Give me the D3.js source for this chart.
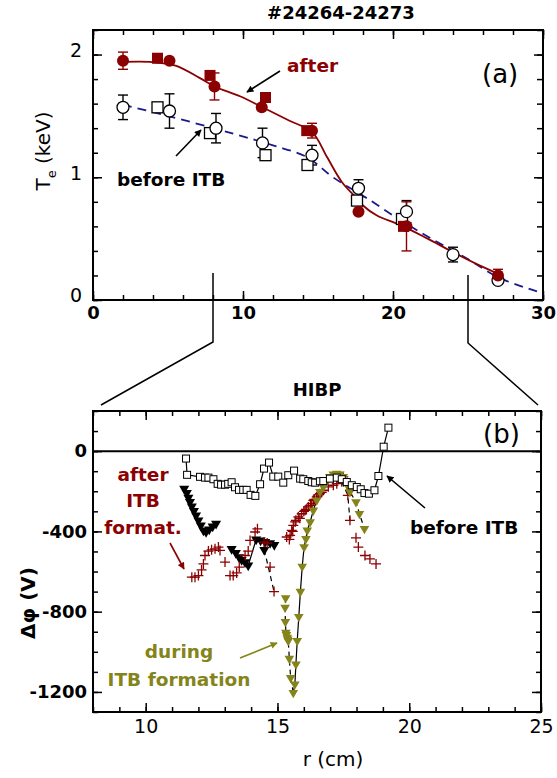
<!DOCTYPE html>
<html>
<head>
<meta charset="utf-8">
<script src="https://cdn.jsdelivr.net/npm/d3@7.9.0/dist/d3.min.js"></script>
<style>
  html, body { margin: 0; padding: 0; background: #fff; }
  svg { display: block; font-family: "DejaVu Sans", sans-serif; }
</style>
</head>
<body>
<svg id="chart" width="557" height="778"></svg>
<script>
// ---- panel (a): Te profiles, shots #24264-24273 ----
const afterCircR   = [2.0, 5.1, 8.1, 11.25, 14.6, 17.7, 20.9, 27.0];
const afterCircTe  = [1.95, 1.95, 1.74, 1.57, 1.38, 0.72, 0.60, 0.20];
const afterCircErr = [0.07, 0, 0.11, 0, 0.06, 0, 0.20, 0.05];
const afterSqR  = [4.3, 7.8, 11.5, 14.25, 20.7];
const afterSqTe = [1.97, 1.83, 1.65, 1.38, 0.60];

const beforeCircR   = [2.0, 5.1, 8.2, 11.3, 14.6, 17.7, 20.9, 24.0, 27.0];
const beforeCircTe  = [1.57, 1.54, 1.40, 1.28, 1.18, 0.91, 0.72, 0.37, 0.16];
const beforeCircErr = [0.10, 0.14, 0.12, 0.12, 0.08, 0.07, 0.09, 0.06, 0.03];
const beforeSqR  = [4.3, 7.8, 11.5, 14.3, 17.6, 20.6];
const beforeSqTe = [1.57, 1.36, 1.18, 1.10, 0.81, 0.66];

// fitted profiles
const afterFitR  = [2.0, 3.8, 5.5, 7.1, 8.1, 9.8, 11.3, 13.1, 14.6, 15.6, 16.6, 17.5, 18.0, 18.9, 20.5, 22.3, 24.0, 25.8, 26.9];
const afterFitTe = [1.94, 1.94, 1.91, 1.81, 1.74, 1.66, 1.57, 1.46, 1.37, 1.165, 0.96, 0.84, 0.77, 0.69, 0.61, 0.50, 0.39, 0.28, 0.22];
const beforeFitR  = [2.0, 5.0, 9.35, 12.0, 14.25, 16.0, 18.25, 20.5, 22.7, 24.9, 27.1, 29.6];
const beforeFitTe = [1.59, 1.50, 1.355, 1.26, 1.165, 1.0, 0.83, 0.65, 0.49, 0.34, 0.18, 0.07];

// ---- panel (b): HIBP potential profiles ----
const beforeR = [11.53, 11.57, 12.06, 12.25, 12.38, 12.57, 12.73, 12.86, 13.01, 13.13, 13.26, 13.39, 13.54, 13.70, 13.83, 13.98, 14.16, 14.34, 14.49, 14.68, 14.84, 15.03, 15.22, 15.41, 15.63, 15.86, 15.98, 16.17, 16.30, 16.43, 16.61, 16.74, 16.99, 17.25, 17.44, 17.63, 17.82, 18.01, 18.16, 18.30, 18.47, 18.68, 18.83, 19.03, 19.21];
const beforeV = [-37, -118, -128, -132, -132, -140, -163, -167, -167, -163, -155, -180, -193, -193, -193, -218, -223, -165, -87, -57, -127, -127, -157, -120, -97, -137, -140, -149, -155, -157, -150, -149, -137, -132, -140, -154, -170, -179, -190, -209, -212, -195, -124, 22, 117];

const triA_R = [11.46, 11.56, 11.62, 11.68, 11.75, 11.83, 11.91, 12.0, 12.09, 12.19, 12.29, 12.41, 12.54, 12.67];
const triA_V = [-187, -208, -232, -253, -275, -298, -320, -345, -370, -395, -403, -390, -375, -362];
const triB_R = [13.26, 13.42, 13.54, 13.64, 13.77, 13.89, 14.19, 14.36, 14.53, 14.72, 14.88];
const triB_V = [-487, -507, -528, -542, -553, -570, -440, -445, -452, -458, -467];
const triC_R = [14.50];
const triC_V = [-492];

const crossR = [11.75, 11.87, 12.0, 12.12, 12.19, 12.25, 12.38, 12.50, 12.63, 12.76, 12.82, 13.01, 13.20, 13.32, 13.45, 13.55, 13.77, 13.89, 13.96, 14.15, 14.24, 14.49, 14.61, 14.72, 14.87,
  15.35, 15.45, 15.48, 15.54, 15.58, 15.60, 15.67, 15.70, 15.79, 15.85, 15.92, 16.0, 16.05, 16.10, 16.17, 16.25, 16.30, 16.36, 16.40, 16.49, 16.55, 16.61, 16.68, 16.74, 16.93, 17.12, 17.25, 17.44, 17.50,
  17.67, 17.75, 17.98, 18.07, 18.32, 18.51, 18.74];
const crossV = [-628, -628, -620, -592, -562, -520, -498, -492, -487, -478, -495, -553, -620, -620, -607, -578, -520, -498, -445, -403, -387, -453, -458, -578, -700,
  -428, -440, -420, -395, -400, -370, -353, -345, -328, -335, -312, -300, -295, -290, -278, -270, -262, -245, -240, -228, -218, -212, -205, -195, -178, -170, -162, -153, -128,
  -220, -345, -432, -478, -520, -537, -562];

const oliveDownR = [15.31, 15.29, 15.30, 15.32, 15.34, 15.37, 15.39, 15.41, 15.45, 15.50, 15.60];
const oliveDownV = [-732, -779, -850, -904, -915, -929, -937, -945, -1034, -1129, -1204];
const oliveUpR = [15.60, 15.66, 15.70, 15.75, 15.81, 15.87, 15.94, 16.01, 16.08, 16.13, 16.24, 16.36, 16.49, 16.61, 16.74, 16.87, 16.99, 17.12, 17.25, 17.37, 17.50];
const oliveUpV = [-1204, -1162, -1062, -945, -825, -700, -575, -478, -437, -395, -353, -295, -245, -203, -178, -153, -128, -115, -112, -115, -128];
const oliveOutR = [17.50, 17.65, 17.75, 17.98, 18.11, 18.30];
const oliveOutV = [-128, -170, -203, -253, -312, -387];

// dashed connectors seen between points
const linkA = [[14.50, -492], [14.87, -700]];
const linkB = [[17.44, -153], [17.67, -220], [17.75, -345]];

const RED = '#8b0000', NAVY = '#1a1a8e', OLIVE = '#84841a';
const svg = d3.select('#chart');

const defs = svg.append('defs');
function arrowHead(id, color) {
  defs.append('marker').attr('id', id)
    .attr('viewBox', '0 0 10 10').attr('refX', 9).attr('refY', 5)
    .attr('markerWidth', 9).attr('markerHeight', 7).attr('markerUnits', 'userSpaceOnUse')
    .attr('orient', 'auto')
    .append('path').attr('d', 'M0,0L10,5L0,10z').attr('fill', color);
}
arrowHead('arrK', '#000');
arrowHead('arrR', RED);
arrowHead('arrO', OLIVE);

function arrow(x1, y1, x2, y2, color, id) {
  svg.append('line').attr('x1', x1).attr('y1', y1).attr('x2', x2).attr('y2', y2)
    .attr('stroke', color).attr('stroke-width', 1.6).attr('marker-end', `url(#${id})`);
}

function text(x, y, str, size, opts = {}) {
  return svg.append('text').attr('x', x).attr('y', y).text(str)
    .attr('font-size', size)
    .attr('font-weight', opts.bold ? 'bold' : null)
    .attr('fill', opts.color || '#000')
    .attr('text-anchor', opts.anchor || 'start');
}

// axis helper: ticks point inward, no domain path
function addAxis(axisFn, scale, values, size, transform, opts = {}) {
  const ax = axisFn(scale).tickValues(values).tickSize(size).tickPadding(opts.pad || 6)
    .tickFormat(opts.labels ? (d => String(d)) : '');
  const g = svg.append('g').attr('transform', transform).call(ax);
  g.select('.domain').remove();
  g.selectAll('line').attr('stroke-width', 1.5);
  g.attr('font-family', null).attr('font-size', opts.size || 18)
    .attr('font-weight', opts.bold ? 'bold' : null);
  return g;
}

// ================= panel (a) =================
const xa = d3.scaleLinear().domain([0, 30]).range([93, 543]);
const ya = d3.scaleLinear().domain([0, 2.2]).range([300, 30]);

const minA = d3.range(0, 2.21, 0.2);
addAxis(d3.axisLeft, ya, minA, -5, 'translate(93,0)');
addAxis(d3.axisLeft, ya, [0, 1, 2], -9, 'translate(93,0)', {labels: true, pad: 11, size: 19})
  .selectAll('text').attr('dy', '0.1em');
addAxis(d3.axisRight, ya, minA, -6, 'translate(543,0)');
addAxis(d3.axisRight, ya, [0, 1, 2], -9, 'translate(543,0)');
const minX = d3.range(0, 31, 2);
addAxis(d3.axisBottom, xa, minX, -5, 'translate(0,300)');
addAxis(d3.axisBottom, xa, [0, 10, 20, 30], -9, 'translate(0,300)', {labels: true, pad: 6, bold: true, size: 18});
addAxis(d3.axisTop, xa, minX, -5, 'translate(0,30)');
addAxis(d3.axisTop, xa, [0, 10, 20, 30], -9, 'translate(0,30)');

svg.append('rect').attr('x', 93).attr('y', 30).attr('width', 450).attr('height', 270)
  .attr('fill', 'none').attr('stroke', '#000').attr('stroke-width', 2);

const fitLine = d3.line().curve(d3.curveCatmullRom.alpha(0.5));
svg.append('path')
  .attr('d', fitLine.x(d => xa(d[0])).y(d => ya(d[1]))(d3.zip(beforeFitR, beforeFitTe)))
  .attr('fill', 'none').attr('stroke', NAVY).attr('stroke-width', 1.8).attr('stroke-dasharray', '9,6');
svg.append('path')
  .attr('d', fitLine.x(d => xa(d[0])).y(d => ya(d[1]))(d3.zip(afterFitR, afterFitTe)))
  .attr('fill', 'none').attr('stroke', RED).attr('stroke-width', 1.8);

function errBars(rs, ts, es, color) {
  const g = svg.append('g').attr('stroke', color).attr('stroke-width', 1.4);
  rs.forEach((r, i) => {
    if (!es[i]) return;
    const x = xa(r), y1 = ya(ts[i] - es[i]), y2 = ya(ts[i] + es[i]);
    g.append('line').attr('x1', x).attr('x2', x).attr('y1', y1).attr('y2', y2);
    g.append('line').attr('x1', x - 5).attr('x2', x + 5).attr('y1', y1).attr('y2', y1);
    g.append('line').attr('x1', x - 5).attr('x2', x + 5).attr('y1', y2).attr('y2', y2);
  });
}
errBars(beforeCircR, beforeCircTe, beforeCircErr, '#000');
errBars(afterCircR, afterCircTe, afterCircErr, RED);

svg.append('g').selectAll('rect').data(d3.zip(beforeSqR, beforeSqTe)).join('rect')
  .attr('x', d => xa(d[0]) - 5.5).attr('y', d => ya(d[1]) - 5.5).attr('width', 11).attr('height', 11)
  .attr('fill', '#fff').attr('stroke', '#000').attr('stroke-width', 1.3);
svg.append('g').selectAll('circle').data(d3.zip(beforeCircR, beforeCircTe)).join('circle')
  .attr('cx', d => xa(d[0])).attr('cy', d => ya(d[1])).attr('r', 6)
  .attr('fill', '#fff').attr('stroke', '#000').attr('stroke-width', 1.3);
svg.append('g').selectAll('rect').data(d3.zip(afterSqR, afterSqTe)).join('rect')
  .attr('x', d => xa(d[0]) - 5.5).attr('y', d => ya(d[1]) - 5.5).attr('width', 11).attr('height', 11)
  .attr('fill', RED);
svg.append('g').selectAll('circle').data(d3.zip(afterCircR, afterCircTe)).join('circle')
  .attr('cx', d => xa(d[0])).attr('cy', d => ya(d[1])).attr('r', 6).attr('fill', RED);

text(341, 19, '#24264-24273', 18, {bold: true, anchor: 'middle'});
text(482, 83, '(a)', 26);
text(287, 72, 'after', 18.5, {bold: true, color: RED});
arrow(280, 71, 247, 92, '#000', 'arrK');
text(117, 186, 'before ITB', 18.5, {bold: true});
arrow(176, 156, 201, 130, '#000', 'arrK');

const yLab = svg.append('text').attr('transform', 'translate(50,151) rotate(-90)')
  .attr('text-anchor', 'middle').attr('font-size', 20);
yLab.append('tspan').text('T');
yLab.append('tspan').text('e').attr('font-size', 13).attr('dy', 6);
yLab.append('tspan').text(' (keV)').attr('dy', -6);

// ================= panel (b) =================
const xb = d3.scaleLinear().domain([8, 25]).range([93, 541]);
const yb = d3.scaleLinear().domain([-1300, 200]).range([712, 411]);

// zoom connectors from panel (a)
svg.append('path').attr('d', `M${xa(8)},273V342L101,405`).attr('fill', 'none').attr('stroke', '#000').attr('stroke-width', 1.5);
svg.append('path').attr('d', `M${xa(25)},275V343L538,405`).attr('fill', 'none').attr('stroke', '#000').attr('stroke-width', 1.5);

const minV = d3.range(-1300, 201, 100);
addAxis(d3.axisLeft, yb, minV, -5, 'translate(93,0)');
addAxis(d3.axisLeft, yb, [0, -400, -800, -1200], -9, 'translate(93,0)', {labels: true, pad: 6, bold: true, size: 18});
addAxis(d3.axisRight, yb, minV, -5, 'translate(541,0)');
addAxis(d3.axisRight, yb, [0, -400, -800, -1200], -9, 'translate(541,0)');
const minR = d3.range(8, 25.1, 1);
addAxis(d3.axisBottom, xb, minR, -5, 'translate(0,712)');
addAxis(d3.axisBottom, xb, [10, 15, 20, 25], -9, 'translate(0,712)', {labels: true, pad: 8, size: 19});
addAxis(d3.axisTop, xb, minR, -5, 'translate(0,411)');
addAxis(d3.axisTop, xb, [10, 15, 20, 25], -9, 'translate(0,411)');

svg.append('rect').attr('x', 93).attr('y', 411).attr('width', 448).attr('height', 301)
  .attr('fill', 'none').attr('stroke', '#000').attr('stroke-width', 2);
svg.append('line').attr('x1', 93).attr('x2', 541).attr('y1', yb(0)).attr('y2', yb(0))
  .attr('stroke', '#000').attr('stroke-width', 2);

const lineB = d3.line().x(d => xb(d[0])).y(d => yb(d[1]));
function polyline(pts, dash) {
  svg.append('path').attr('d', lineB(pts)).attr('fill', 'none')
    .attr('stroke', '#000').attr('stroke-width', 1.2).attr('stroke-dasharray', dash || null);
}
polyline(d3.zip(beforeR, beforeV));
polyline(d3.zip(triB_R, triB_V));
polyline(linkA, '5,4');
polyline(linkB, '5,4');
polyline(d3.zip(oliveDownR, oliveDownV), '5,4');
polyline(d3.zip(oliveUpR, oliveUpV));
polyline(d3.zip(oliveOutR, oliveOutV), '5,4');

const tri = d3.symbol().type(d3.symbolTriangle);
function triangles(rs, vs, color, size) {
  svg.append('g').selectAll('path').data(d3.zip(rs, vs)).join('path')
    .attr('d', tri.size(size)())
    .attr('transform', d => `translate(${xb(d[0])},${yb(d[1])}) rotate(180)`)
    .attr('fill', color);
}
triangles(triA_R, triA_V, '#000', 44);
triangles(triB_R, triB_V, '#000', 44);
triangles(triC_R, triC_V, '#000', 44);

svg.append('g').selectAll('path').data(d3.zip(crossR, crossV)).join('path')
  .attr('d', d => `M${xb(d[0]) - 5},${yb(d[1])}h10M${xb(d[0])},${yb(d[1]) - 5}v10`)
  .attr('stroke', RED).attr('stroke-width', 1.3).attr('fill', 'none');

triangles(oliveDownR, oliveDownV, OLIVE, 40);
triangles(oliveUpR.slice(1), oliveUpV.slice(1), OLIVE, 40);
triangles(oliveOutR.slice(1), oliveOutV.slice(1), OLIVE, 40);

svg.append('g').selectAll('rect').data(d3.zip(beforeR, beforeV)).join('rect')
  .attr('x', d => xb(d[0]) - 3.5).attr('y', d => yb(d[1]) - 3.5).attr('width', 7).attr('height', 7)
  .attr('fill', '#fff').attr('stroke', '#000').attr('stroke-width', 1);

text(317, 396, 'HIBP', 18, {bold: true, anchor: 'middle'});
text(483, 443, '(b)', 26);
text(143, 481, 'after', 18.5, {bold: true, color: RED, anchor: 'middle'});
text(143, 507, 'ITB', 18.5, {bold: true, color: RED, anchor: 'middle'});
text(143, 534, 'format.', 18.5, {bold: true, color: RED, anchor: 'middle'});
arrow(170, 543, 184, 569, RED, 'arrR');
text(410, 534, 'before ITB', 18.5, {bold: true});
arrow(425, 508, 387, 476, '#000', 'arrK');
text(179, 658, 'during', 18.5, {bold: true, color: OLIVE, anchor: 'middle'});
text(179, 686, 'ITB formation', 18.5, {bold: true, color: OLIVE, anchor: 'middle'});
arrow(240, 658, 277, 643, OLIVE, 'arrO');

svg.append('text').attr('transform', 'translate(35,603) rotate(-90)')
  .attr('text-anchor', 'middle').attr('font-size', 20).attr('font-weight', 'bold')
  .text('Δφ (V)');
text(333, 766, 'r (cm)', 20, {anchor: 'middle'});
</script>
</body>
</html>
